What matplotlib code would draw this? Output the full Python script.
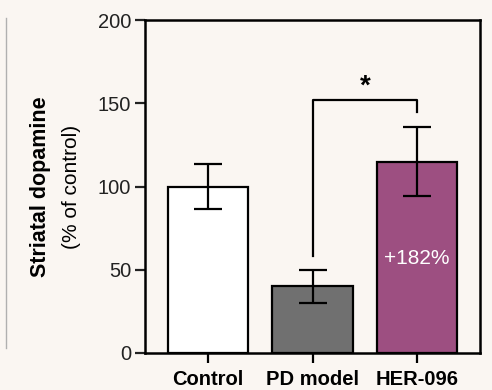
import numpy as np
import matplotlib.pyplot as plt

plt.rcParams["font.family"] = ["Liberation Sans", "DejaVu Sans"]

# Data
groups = ["Control", "PD model", "HER-096"]
means = [100, 40, 115]
errors = [13.5, 10, 21]
colors = ["#ffffff", "#707070", "#9d4f81"]

bg = "#faf6f2"

fig = plt.figure(figsize=(4.92, 3.9), dpi=100, facecolor=bg)
ax = fig.add_axes([145/492, 1 - 353/390, 335/492, 333/390])
ax.set_facecolor(bg)

x = np.arange(len(groups))
ax.bar(x, means, width=0.77, color=colors, edgecolor="black", linewidth=1.6, zorder=2)
ax.errorbar(x, means, yerr=errors, fmt="none", ecolor="black",
            elinewidth=1.6, capsize=10, capthick=1.6, zorder=3)

ax.set_xlim(-0.6, 2.6)
ax.set_ylim(0, 200)
ax.set_yticks([0, 50, 100, 150, 200])
ax.set_xticks(x)
ax.set_xticklabels(groups, fontsize=14.5, fontweight="bold")
ax.tick_params(axis="y", labelsize=14.5, length=7, width=1.6, colors="#222222", pad=3)
ax.tick_params(axis="x", length=7, width=1.6, pad=5)
for s in ax.spines.values():
    s.set_linewidth(1.8)

# y label: bold line + normal line
ax.text(-0.313, 0.5, "Striatal dopamine", transform=ax.transAxes, rotation=90,
        ha="center", va="center", fontsize=15.5, fontweight="bold")
ax.text(-0.218, 0.5, "(% of control)", transform=ax.transAxes, rotation=90,
        ha="center", va="center", fontsize=15)

# significance bracket
ax.plot([1, 1, 2, 2], [58, 152, 152, 145], color="black", lw=1.6, zorder=3)
ax.text(1.5, 152, "*", ha="center", va="bottom", fontsize=20, fontweight="bold")

# annotation inside HER-096 bar
ax.text(2, 57, "+182%", ha="center", va="center", color="white", fontsize=15)

# thin grey line at left edge
fig.add_artist(plt.Line2D([6/492, 6/492], [1 - 18/390, 1 - 348/390],
                          color="#b0b0b0", lw=1))

fig.savefig("out.png", dpi=100, facecolor=bg)
